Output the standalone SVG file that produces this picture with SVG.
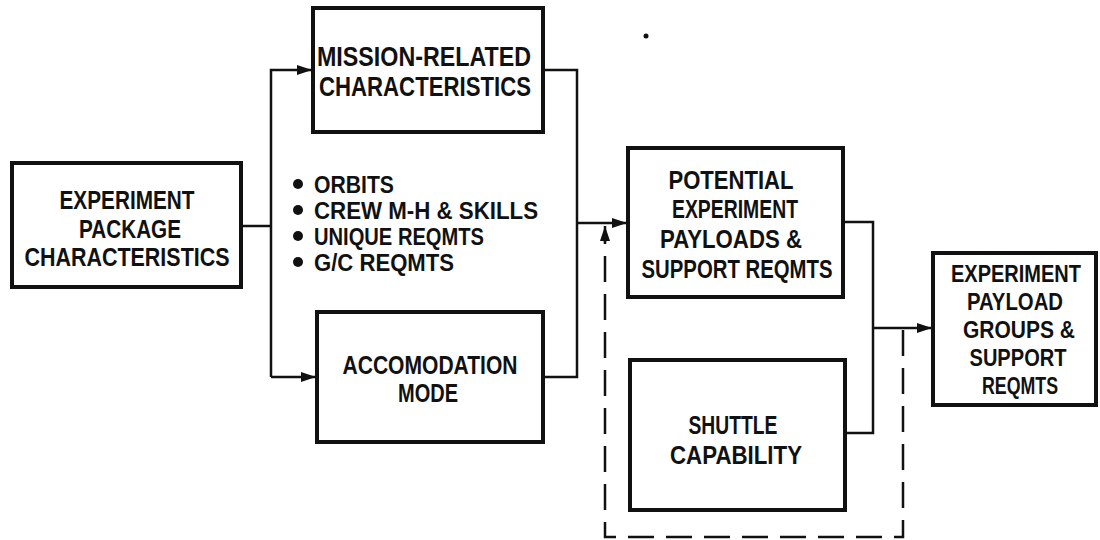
<svg xmlns="http://www.w3.org/2000/svg" width="1100" height="540" viewBox="0 0 1100 540">
  <style>
    .box { fill: #fff; stroke: #111; stroke-width: 4; }
    .wire { fill: none; stroke: #111; stroke-width: 2.5; }
    .dash { fill: none; stroke: #111; stroke-width: 2.5; stroke-dasharray: 26 12; }
    .lbl { font-family: "Liberation Sans", Arial, sans-serif; font-size: 26px; font-weight: bold; fill: #111; text-anchor: middle; }
    .sm { font-size: 23px; }
    .bul { font-family: "Liberation Sans", Arial, sans-serif; font-size: 24px; font-weight: bold; fill: #111; }
  </style>
  <defs>
    <marker id="arrow" viewBox="0 0 15 10" refX="15" refY="5" markerWidth="15" markerHeight="10" markerUnits="userSpaceOnUse" orient="auto">
      <path d="M0,0 L15,5 L0,10 Z" fill="#111"/>
    </marker>
  </defs>

  <rect width="1100" height="540" fill="#fff"/>

  <!-- connectors -->
  <g id="connectors">
    <!-- fan-out from package characteristics -->
    <path class="wire" d="M241,226 H271"/>
    <path class="wire" d="M271,377 V70 H312" marker-end="url(#arrow)"/>
    <path class="wire" d="M271,377 H316" marker-end="url(#arrow)"/>
    <!-- merge into potential payloads -->
    <path class="wire" d="M543,70 H577 V377 H543"/>
    <path class="wire" d="M577,223 H627" marker-end="url(#arrow)"/>
    <!-- merge into payload groups -->
    <path class="wire" d="M843,222 H873 V433 H845"/>
    <path class="wire" d="M873,328 H932" marker-end="url(#arrow)"/>
    <!-- dashed feedback loop -->
    <path class="dash" d="M903,330 V537 H605 V240"/>
    <path class="wire" d="M605,242 V226" marker-end="url(#arrow)"/>
  </g>

  <g id="package">
    <rect class="box" x="12" y="163" width="229" height="124"/>
    <text class="lbl" x="127" y="209" textLength="135" lengthAdjust="spacingAndGlyphs">EXPERIMENT</text>
    <text class="lbl" x="130" y="238" textLength="102" lengthAdjust="spacingAndGlyphs">PACKAGE</text>
    <text class="lbl" x="127" y="266" textLength="205" lengthAdjust="spacingAndGlyphs">CHARACTERISTICS</text>
  </g>

  <g id="mission">
    <rect class="box" x="313" y="8" width="230" height="124"/>
    <text class="lbl" x="424" y="66" textLength="214" lengthAdjust="spacingAndGlyphs" style="font-size:27px">MISSION-RELATED</text>
    <text class="lbl" x="425" y="96" textLength="212" lengthAdjust="spacingAndGlyphs" style="font-size:27px">CHARACTERISTICS</text>
  </g>

  <g id="factors">
    <circle cx="298" cy="184" r="5" fill="#111"/>
    <circle cx="298" cy="210" r="5" fill="#111"/>
    <circle cx="298" cy="236" r="5" fill="#111"/>
    <circle cx="298" cy="262" r="5" fill="#111"/>
    <text class="bul" x="314" y="193" textLength="80" lengthAdjust="spacingAndGlyphs">ORBITS</text>
    <text class="bul" x="314" y="219" textLength="224" lengthAdjust="spacingAndGlyphs">CREW M-H &amp; SKILLS</text>
    <text class="bul" x="314" y="245" textLength="170" lengthAdjust="spacingAndGlyphs">UNIQUE REQMTS</text>
    <text class="bul" x="314" y="271" textLength="140" lengthAdjust="spacingAndGlyphs">G/C REQMTS</text>
  </g>

  <g id="accommodation">
    <rect class="box" x="317" y="312" width="226" height="130"/>
    <text class="lbl" x="430" y="374" textLength="175" lengthAdjust="spacingAndGlyphs">ACCOMODATION</text>
    <text class="lbl" x="428" y="402" textLength="60" lengthAdjust="spacingAndGlyphs">MODE</text>
  </g>

  <g id="potential">
    <rect class="box" x="628" y="148" width="215" height="149"/>
    <text class="lbl" x="731" y="189" textLength="125" lengthAdjust="spacingAndGlyphs">POTENTIAL</text>
    <text class="lbl" x="735" y="218" textLength="126" lengthAdjust="spacingAndGlyphs">EXPERIMENT</text>
    <text class="lbl" x="731" y="248" textLength="142" lengthAdjust="spacingAndGlyphs">PAYLOADS &amp;</text>
    <text class="lbl" x="737" y="278" textLength="191" lengthAdjust="spacingAndGlyphs">SUPPORT REQMTS</text>
  </g>

  <g id="shuttle">
    <rect class="box" x="630" y="360" width="215" height="150"/>
    <text class="lbl" x="733" y="434" textLength="89" lengthAdjust="spacingAndGlyphs">SHUTTLE</text>
    <text class="lbl" x="736" y="464" textLength="132" lengthAdjust="spacingAndGlyphs">CAPABILITY</text>
  </g>

  <g id="payload-groups">
    <rect class="box" x="933" y="253" width="163" height="152"/>
    <text class="lbl sm" x="1016" y="282" textLength="130" lengthAdjust="spacingAndGlyphs">EXPERIMENT</text>
    <text class="lbl sm" x="1015" y="310" textLength="96" lengthAdjust="spacingAndGlyphs">PAYLOAD</text>
    <text class="lbl sm" x="1019" y="338" textLength="112" lengthAdjust="spacingAndGlyphs">GROUPS &amp;</text>
    <text class="lbl sm" x="1018" y="366" textLength="97" lengthAdjust="spacingAndGlyphs">SUPPORT</text>
    <text class="lbl sm" x="1020" y="394" textLength="76" lengthAdjust="spacingAndGlyphs">REQMTS</text>
  </g>

  <!-- ink speck above the layout -->
  <circle cx="646" cy="36" r="2.5" fill="#111"/>
</svg>
